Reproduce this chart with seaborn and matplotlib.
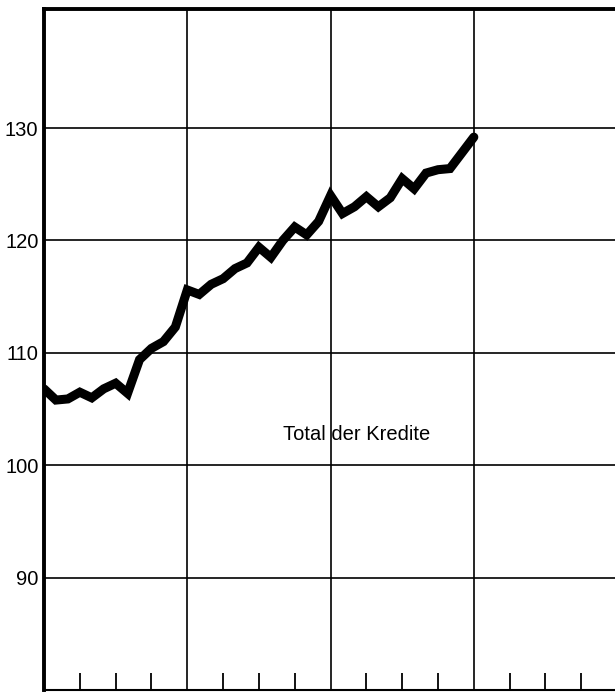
import numpy as np
import pandas as pd
import matplotlib
matplotlib.use("Agg")
import matplotlib.pyplot as plt
import seaborn as sns

# Monthly index values (3 years, 37 points)
months = list(range(37))
kredite = [106.8, 105.8, 105.9, 106.5, 106.0, 106.8, 107.3, 106.4, 109.4, 110.4,
           111.0, 112.3, 115.6, 115.2, 116.1, 116.6, 117.5, 118.0, 119.4, 118.5,
           120.0, 121.2, 120.5, 121.7, 124.0, 122.4, 123.0, 123.9, 123.0, 123.8,
           125.5, 124.6, 126.0, 126.3, 126.4, 127.8, 129.2]
y_ticks = [90, 100, 110, 120, 130]
year_lines = [12, 24, 36]
quarter_ticks = [3, 6, 9, 15, 18, 21, 27, 30, 33, 39, 42, 45]
label_text = "Total der Kredite"

sns.set_style("white")
plt.rcParams['font.family'] = ['Liberation Sans', 'DejaVu Sans']

df = pd.DataFrame({"Monat": months, "Index": kredite})

W, H = 615, 692
fig = plt.figure(figsize=(W / 100, H / 100), dpi=100)
left, right, bottom, top = 44, 615, 690, 9
ax = fig.add_axes([left / W, (H - bottom) / H, (right - left) / W, (bottom - top) / H])

ax.set_xlim(0, (right - left) / 11.94)
ax.set_ylim(80, 140.6)

for yv in y_ticks:
    ax.axhline(yv, color="black", lw=1.2, zorder=1)
for xv in year_lines:
    ax.axvline(xv, color="black", lw=1.2, zorder=1)

sns.lineplot(data=df, x="Monat", y="Index", ax=ax, color="black",
             linewidth=6.5, solid_joinstyle="miter", zorder=3)

ax.text(20.0, 102.7, label_text, fontsize=14.5, color="black",
        ha="left", va="center", zorder=4)

ax.set_yticks(y_ticks)
ax.set_yticklabels([str(v) for v in y_ticks], fontsize=14.5)
ax.tick_params(axis="y", left=False, length=0, pad=4, labelcolor="black")
ax.set_xticks(quarter_ticks)
ax.set_xticklabels([])
ax.tick_params(axis="x", bottom=True, direction="in", length=12, width=1.3,
               color="black")
ax.set_xlabel("")
ax.set_ylabel("")

for s in ["left", "top"]:
    ax.spines[s].set_linewidth(2.8)
    ax.spines[s].set_color("black")
ax.spines["bottom"].set_linewidth(1.5)
ax.spines["bottom"].set_color("black")
ax.spines["right"].set_visible(False)

fig.savefig("out.png", dpi=100)
